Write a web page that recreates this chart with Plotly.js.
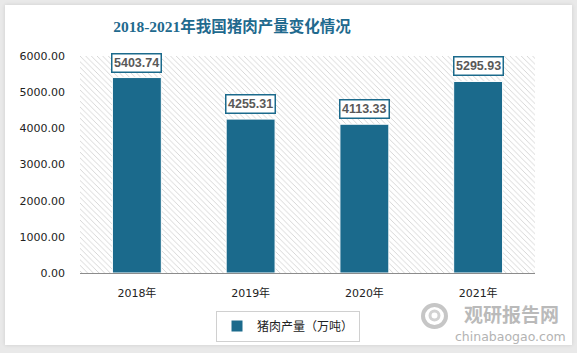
<!DOCTYPE html>
<html>
<head>
<meta charset="utf-8">
<script src="https://cdn.plot.ly/plotly-3.0.1.min.js"></script>
<style>
  html, body { margin: 0; padding: 0; background: #e9e9e9; width: 577px; height: 353px; overflow: hidden; }
  #card { position: absolute; left: 5px; top: 5px; width: 567px; height: 340px; background: #ffffff; box-shadow: 0 0 4px rgba(0,0,0,0.12); }
  #chart { position: absolute; left: 0; top: 0; width: 577px; height: 353px; }
</style>
</head>
<body>
<div id="card"></div>
<div id="chart"></div>
<script>
// ---- data ----
var years = ['2018年', '2019年', '2020年', '2021年'];
var pork = [5403.74, 4255.31, 4113.33, 5295.93];
var seriesName = '猪肉产量（万吨）';
var yTicks = [0, 1000, 2000, 3000, 4000, 5000, 6000];
var yMax = 6000;

var barColor = '#1b6a8c';

var hatch = {
  type: 'bar', x: years, y: years.map(function () { return yMax; }),
  width: 1, showlegend: false, hoverinfo: 'skip',
  marker: {
    color: '#ffffff', line: { width: 0 },
    pattern: { shape: '\\', fgcolor: '#cdcdcd', bgcolor: '#ffffff', size: 4, solidity: 0.2 }
  }
};

var bars = {
  type: 'bar', x: years, y: pork, name: seriesName, width: 0.43,
  marker: { color: barColor, line: { color: '#ffffff', width: 1 } },
  hoverinfo: 'x+y'
};

var annotations = years.map(function (yr, i) {
  return {
    x: yr, y: pork[i], xref: 'x', yref: 'y',
    text: pork[i].toFixed(2), showarrow: false,
    yanchor: 'bottom', yshift: 5,
    bgcolor: '#ffffff', bordercolor: barColor, borderwidth: 1.5, borderpad: 1.5,
    font: { family: 'Liberation Sans, Arial, sans-serif', size: 12.5, color: '#595959', weight: 'bold' }
  };
});

annotations.push({
  xref: 'paper', yref: 'paper', x: 0.949, y: (273 - 313) / 217, xanchor: 'center', yanchor: 'middle',
  text: '观研报告网', showarrow: false,
  font: { family: 'Noto Sans CJK SC, sans-serif', size: 19, color: '#bababa', weight: 'bold' }
});
annotations.push({
  xref: 'paper', yref: 'paper', x: 0.947, y: (273 - 336) / 217, xanchor: 'center', yanchor: 'middle',
  text: 'chinabaogao.com', showarrow: false,
  font: { family: 'DejaVu Sans, sans-serif', size: 12.5, color: '#b3b3b3' }
});

var shapes = [
  { type: 'circle', xref: 'paper', yref: 'paper',
    x0: (423 - 80) / 455, x1: (446 - 80) / 455, y0: (273 - 327) / 217, y1: (273 - 305) / 217,
    line: { color: '#c6c6c6', width: 4 } },
  { type: 'circle', xref: 'paper', yref: 'paper',
    x0: (430 - 80) / 455, x1: (439 - 80) / 455, y0: (273 - 320) / 217, y1: (273 - 311) / 217,
    line: { color: '#d2d2d2', width: 3 } }
];

var layout = {
  width: 577, height: 353,
  margin: { l: 80, r: 42, t: 56, b: 80 },
  paper_bgcolor: 'rgba(0,0,0,0)',
  plot_bgcolor: 'rgba(0,0,0,0)',
  barmode: 'overlay',
  title: {
    text: '2018-2021年我国猪肉产量变化情况',
    font: { family: 'Liberation Serif, DejaVu Serif, Noto Sans CJK SC, serif', size: 15.5, color: '#1f6a8e', weight: 'bold' },
    x: 232 / 577, xref: 'container', xanchor: 'center',
    y: 1 - 27 / 353, yref: 'container', yanchor: 'middle'
  },
  xaxis: {
    type: 'category', range: [-0.5, 3.5], fixedrange: true,
    showgrid: false, zeroline: false,
    showline: true, linecolor: '#8c8c8c', linewidth: 1,
    ticks: '', ticklabelstandoff: 10,
    tickfont: { family: 'DejaVu Sans, Noto Sans CJK SC, sans-serif', size: 11, color: '#222' }
  },
  yaxis: {
    range: [0, yMax], fixedrange: true,
    tickvals: yTicks, ticktext: yTicks.map(function (v) { return v.toFixed(2); }),
    showgrid: false, zeroline: false, showline: false,
    ticks: '', ticklabelstandoff: 14,
    tickfont: { family: 'DejaVu Sans, sans-serif', size: 11, color: '#222' }
  },
  legend: {
    orientation: 'h', x: (288 - 80) / 455, xanchor: 'center', y: (273 - 326) / 217, yanchor: 'middle',
    bordercolor: '#d0d0d0', borderwidth: 1, bgcolor: '#ffffff',
    font: { family: 'Noto Sans CJK SC, sans-serif', size: 12, color: '#222' }
  },
  annotations: annotations,
  shapes: shapes,
  showlegend: true
};

Plotly.newPlot('chart', [hatch, bars], layout, { displayModeBar: false, staticPlot: true });
</script>
</body>
</html>
